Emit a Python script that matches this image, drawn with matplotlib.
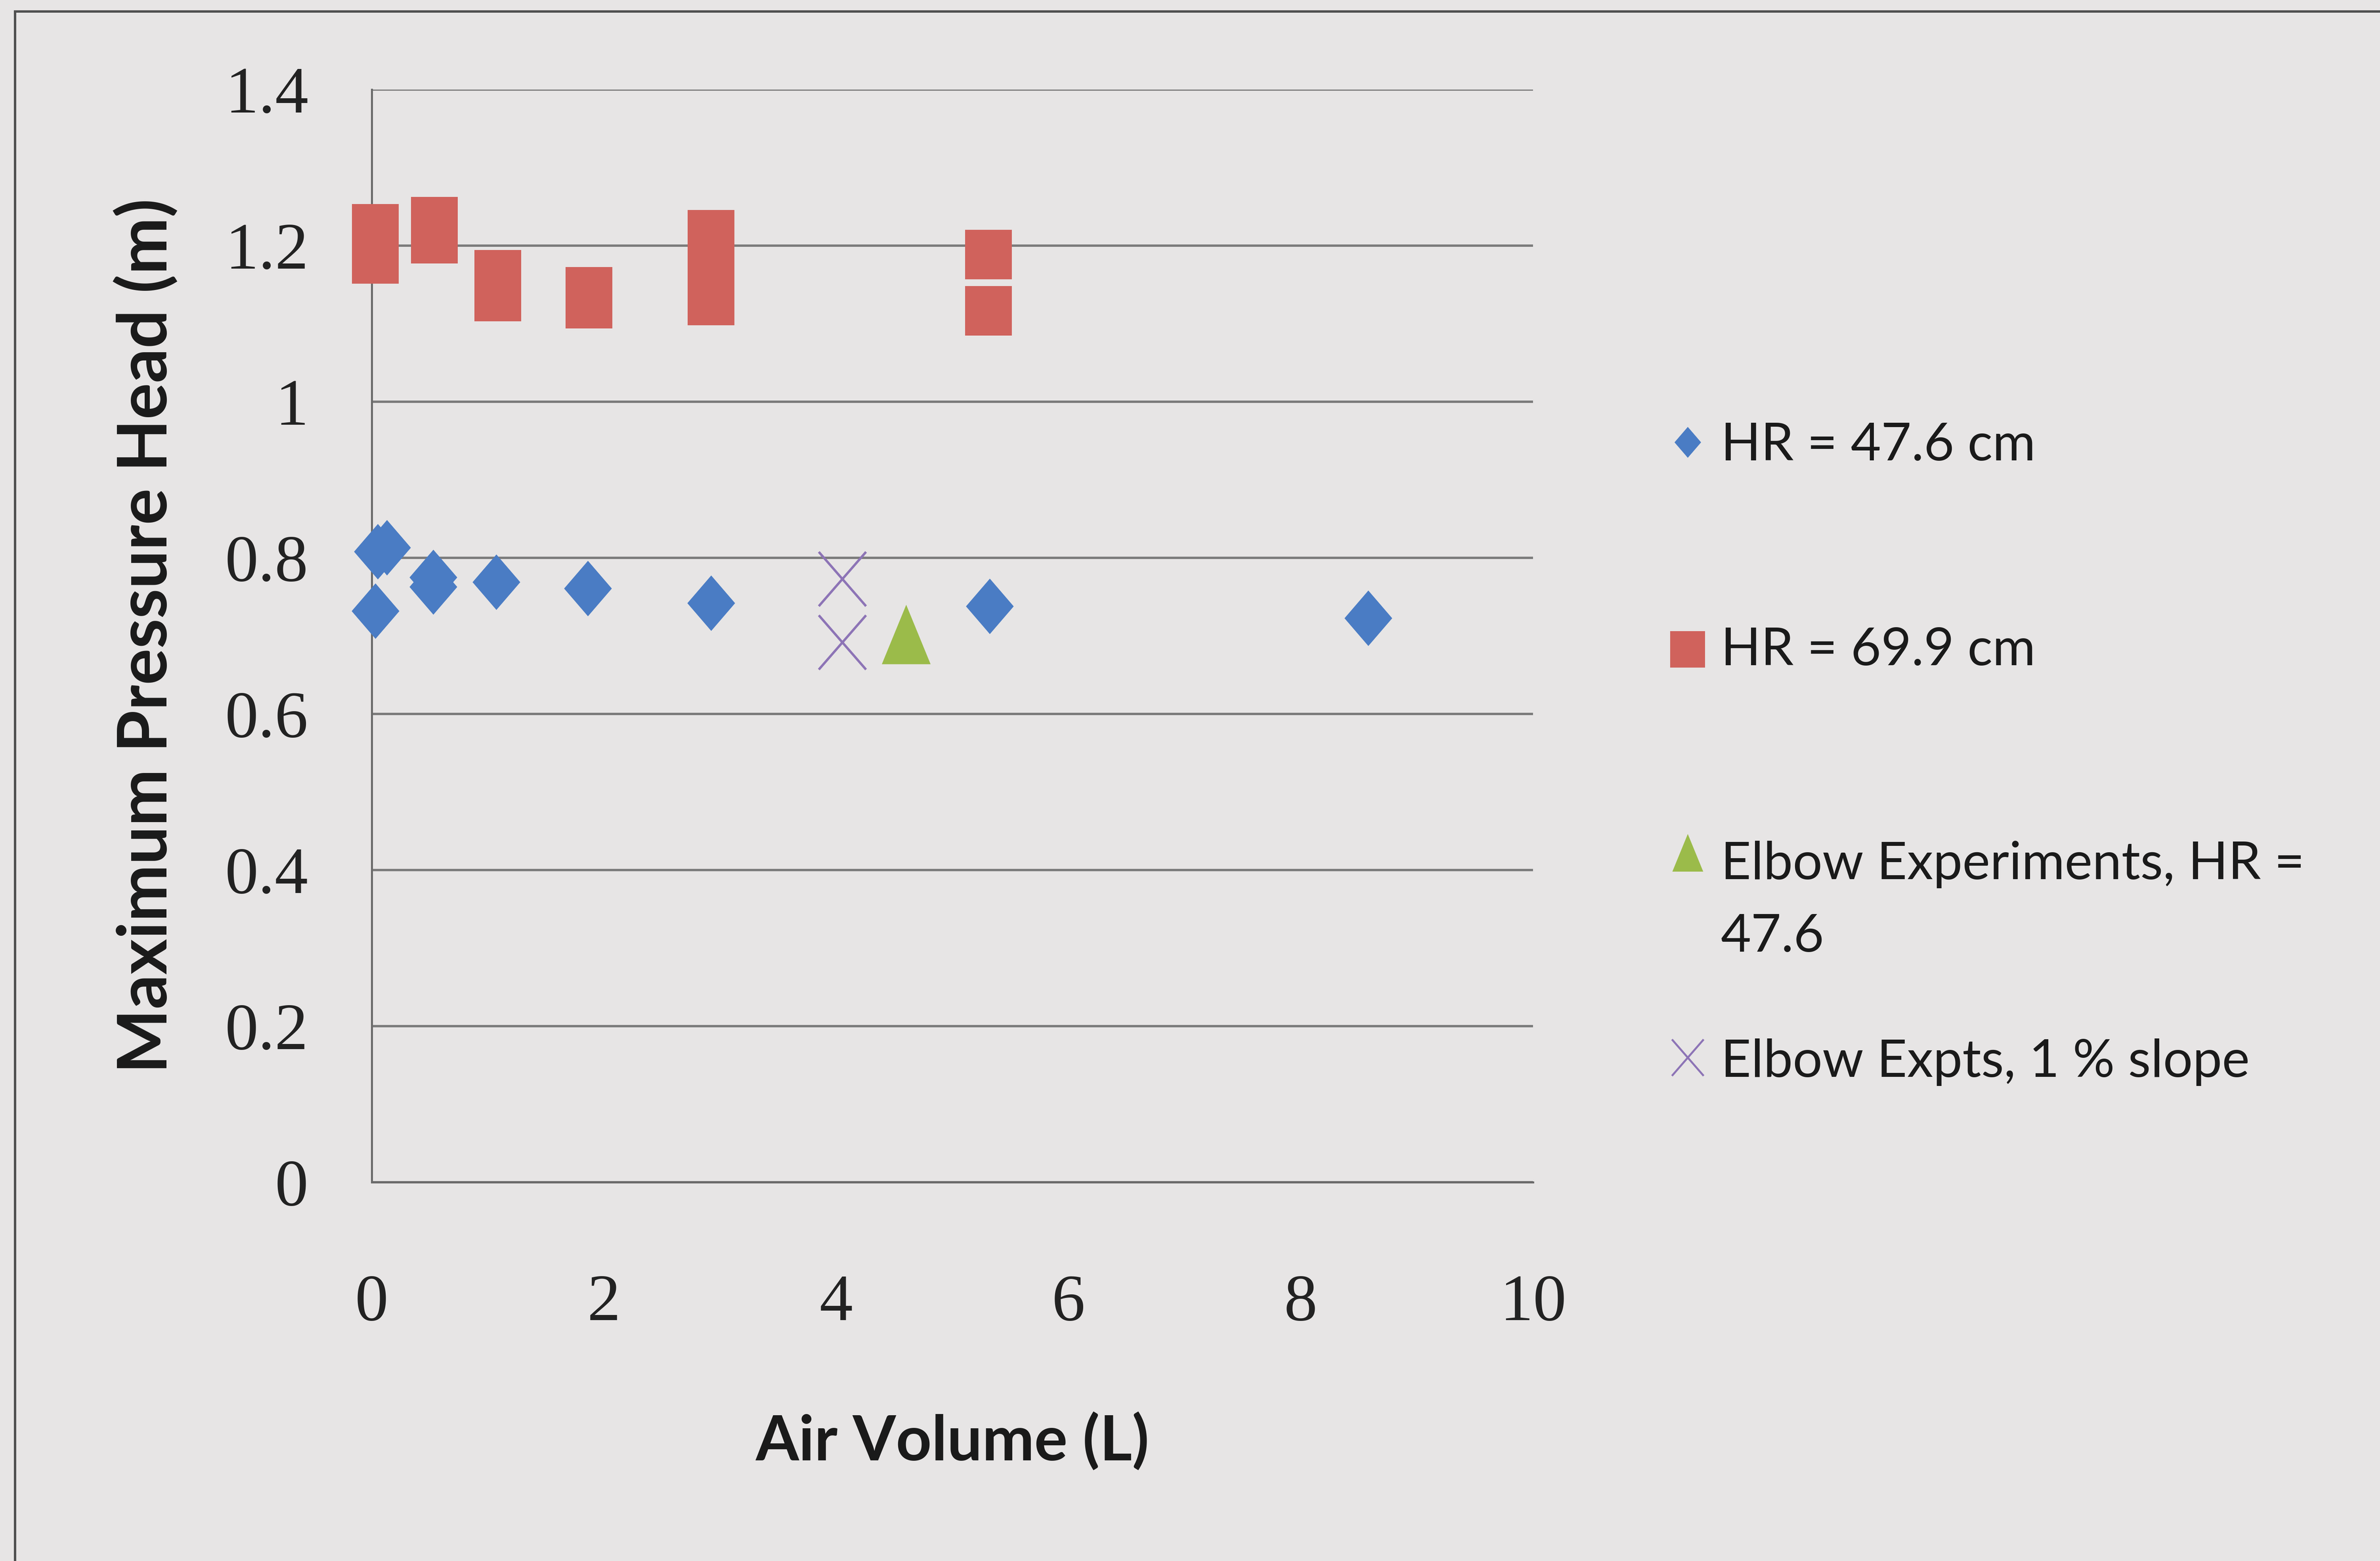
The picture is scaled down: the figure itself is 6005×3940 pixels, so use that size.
import numpy as np
import matplotlib
matplotlib.use("Agg")
import matplotlib.pyplot as plt
from matplotlib.path import Path
from matplotlib.lines import Line2D

# ---- data -------------------------------------------------------------
hr476_x = [0.03, 0.05, 0.13, 0.53, 0.53, 1.07, 1.86, 2.92, 5.32, 8.58]
hr476_y = [0.732, 0.808, 0.813, 0.775, 0.763, 0.769, 0.761, 0.742, 0.738, 0.723]

hr699_x = [0.03, 0.03, 0.54, 0.54, 1.085, 1.085, 1.87, 1.87, 2.92, 2.92, 2.92, 5.31, 5.31]
hr699_y = [1.222, 1.183, 1.231, 1.209, 1.163, 1.135, 1.141, 1.126, 1.214, 1.172, 1.130, 1.189, 1.117]

elbow_x = [4.60]
elbow_y = [0.702]

slope_x = [4.05, 4.05]
slope_y = [0.773, 0.692]

series_labels = ["HR = 47.6 cm", "HR = 69.9 cm",
                 "Elbow Experiments, HR =\n47.6", "Elbow Expts, 1 % slope"]

x_ticks = [0, 2, 4, 6, 8, 10]
x_tick_labels = ["0", "2", "4", "6", "8", "10"]
y_ticks = [0, 0.2, 0.4, 0.6, 0.8, 1.0, 1.2, 1.4]
y_tick_labels = ["0", "0.2", "0.4", "0.6", "0.8", "1", "1.2", "1.4"]

# ---- styling ----------------------------------------------------------
W, H = 6005, 3940
DPI = 100
BG = "#e7e5e5"
BLUE = "#4a7cc4"
RED = "#d0625c"
GREEN = "#9bbb4a"
PURPLE = "#8d74b6"
GRID = "#7c7c7c"

diamond = Path([(0, 1), (0.86, 0), (0, -1), (-0.86, 0), (0, 1)],
               [Path.MOVETO, Path.LINETO, Path.LINETO, Path.LINETO, Path.CLOSEPOLY])
square = Path([(-0.95, -1), (0.95, -1), (0.95, 1), (-0.95, 1), (-0.95, -1)],
              [Path.MOVETO, Path.LINETO, Path.LINETO, Path.LINETO, Path.CLOSEPOLY])
triangle = Path([(0, 1), (0.82, -1), (-0.82, -1), (0, 1)],
                [Path.MOVETO, Path.LINETO, Path.LINETO, Path.CLOSEPOLY])
cross = Path([(-0.87, -1), (0.87, 1), (-0.87, 1), (0.87, -1)],
             [Path.MOVETO, Path.LINETO, Path.MOVETO, Path.LINETO])

def px(v):
    return v * 72.0 / DPI

fig = plt.figure(figsize=(W / DPI, H / DPI), dpi=DPI, facecolor=BG)
ax_l, ax_r, ax_t, ax_b = 938, 3868, 226, 2984
ax = fig.add_axes([ax_l / W, 1 - ax_b / H, (ax_r - ax_l) / W, (ax_b - ax_t) / H])
ax.set_facecolor(BG)
ax.set_xlim(0, 10)
ax.set_ylim(0, 1.4)
ax.set_axisbelow(True)

ax.set_xticks(x_ticks)
ax.set_xticklabels(x_tick_labels)
ax.set_yticks(y_ticks)
ax.set_yticklabels(y_tick_labels)
ax.yaxis.grid(True, color=GRID, linewidth=px(6))
ax.xaxis.grid(False)
for side in ("top", "right"):
    ax.spines[side].set_visible(False)
for side in ("left", "bottom"):
    ax.spines[side].set_color("#6a6a6a")
    ax.spines[side].set_linewidth(px(5))

tick_font = dict(family="Liberation Serif", size=px(168), color="#222222")
ax.tick_params(axis="both", length=0)
ax.tick_params(axis="y", pad=px(160))
ax.tick_params(axis="x", pad=px(232))
for lab in ax.get_xticklabels() + ax.get_yticklabels():
    lab.set_fontfamily(tick_font["family"])
    lab.set_fontsize(tick_font["size"])
    lab.set_color(tick_font["color"])

ax.set_xlabel("Air Volume (L)", labelpad=px(195), family="Lato", weight="bold",
              size=px(157), color="#1a1a1a")
ax.set_ylabel("Maximum Pressure Head (m)", labelpad=px(118), family="Lato", weight="bold",
              size=px(172), color="#1a1a1a")

# ---- data markers -----------------------------------------------------
ax.plot(hr476_x, hr476_y, linestyle="none", marker=diamond, markersize=px(140),
        color=BLUE, markeredgewidth=0, zorder=3, clip_on=False)
ax.plot(hr699_x, hr699_y, linestyle="none", marker=square, markersize=px(125),
        color=RED, markeredgewidth=0, zorder=3, clip_on=False)
ax.plot(elbow_x, elbow_y, linestyle="none", marker=triangle, markersize=px(150),
        color=GREEN, markeredgewidth=0, zorder=3, clip_on=False)
ax.plot(slope_x, slope_y, linestyle="none", marker=cross, markersize=px(137),
        markerfacecolor="none", markeredgecolor=PURPLE, markeredgewidth=px(6),
        zorder=3, clip_on=False)

# ---- legend (drawn in figure coordinates) -----------------------------
leg_marker_x = 4258
leg_text_x = 4342
leg_markers = [
    (diamond, BLUE, 1116, 78, True),
    (square, RED, 1639, 92, True),
    (triangle, GREEN, 2152, 95, True),
    (cross, PURPLE, 2669, 92, False),
]
leg_baselines = [1162, 1679, 2219, 2718]
leg_font = dict(family="Lato", size=px(132), color="#1a1a1a")

for (mk, col, yc, size, filled), base, text in zip(leg_markers, leg_baselines, series_labels):
    if filled:
        ln = Line2D([leg_marker_x / W], [1 - yc / H], transform=fig.transFigure,
                    linestyle="none", marker=mk, markersize=px(size), color=col,
                    markeredgewidth=0)
    else:
        ln = Line2D([leg_marker_x / W], [1 - yc / H], transform=fig.transFigure,
                    linestyle="none", marker=mk, markersize=px(size),
                    markerfacecolor="none", markeredgecolor=col, markeredgewidth=px(5))
    fig.add_artist(ln)
    lines = text.split("\n")
    for i, line in enumerate(lines):
        fig.text(leg_text_x / W, 1 - (base + i * 183) / H, line,
                 ha="left", va="baseline", **leg_font)

# ---- outer frame (left and top edges) ---------------------------------
fx, fy = 38, 29
fig.add_artist(Line2D([fx / W, fx / W], [0, 1 - fy / H], transform=fig.transFigure,
                      color="#505050", linewidth=px(6)))
fig.add_artist(Line2D([fx / W, 1], [1 - fy / H, 1 - fy / H], transform=fig.transFigure,
                      color="#505050", linewidth=px(6)))

fig.savefig("out.png", dpi=DPI, facecolor=BG)
